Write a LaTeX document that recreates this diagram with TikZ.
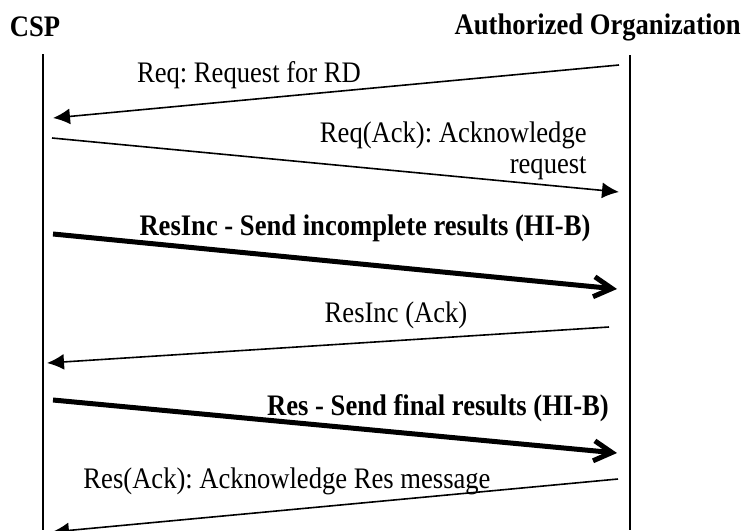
\documentclass[tikz,border=0pt]{standalone}
\usepackage{fontspec}
\setmainfont{Liberation Serif}
\frenchspacing
\usetikzlibrary{positioning,arrows.meta}
\tikzset{lifeline/.style={draw, line width=0.75pt}}
\tikzset{msg/.style={draw, line width=0.8pt, -{Latex[length=8.5pt,width=8pt]}}}
\tikzset{bigmsg/.style={draw, line width=2.5pt, -{Straight Barb[length=9pt,width=10pt]}}}
\tikzset{lbl/.style={inner sep=0pt, yscale=1.12, font=\fontsize{13.3}{13.8}\selectfont}}
\tikzset{boldlbl/.style={lbl, font=\fontsize{13.3}{13.8}\selectfont\bfseries}}

\begin{document}
\begin{tikzpicture}[x=0.5pt, y=-0.5pt]
    \useasboundingbox (0,0) rectangle (743,530);
    % actors
    \node[boldlbl](csp) at (35,27) {CSP};
    \node[boldlbl, anchor=east](ao) at (741,27) {Authorized Organization};
    % lifelines
    \coordinate (cspTop) at (43,54);
    \coordinate (cspBot) at (43,530);
    \coordinate (aoTop) at (630,55);
    \coordinate (aoBot) at (630,530);
    \draw[lifeline] (cspTop) -- (cspBot);
    \draw[lifeline] (aoTop) -- (aoBot);
    % message end points
    \coordinate (reqS) at (619,65);
    \coordinate (reqE) at (53,118);
    \coordinate (ackS) at (52,138);
    \coordinate (ackE) at (619,192);
    \coordinate (incS) at (53,234);
    \coordinate (incE) at (617,289);
    \coordinate (incAckS) at (609,327);
    \coordinate (incAckE) at (47,363);
    \coordinate (resS) at (53,400);
    \coordinate (resE) at (617,453);
    \coordinate (resAckS) at (618,479);
    \coordinate (resAckE) at (52,532);
    % messages
    \draw[msg](reqS) -- (reqE);
    \draw[msg](ackS) -- (ackE);
    \draw[bigmsg](incS) -- (incE);
    \draw[msg](incAckS) -- (incAckE);
    \draw[bigmsg](resS) -- (resE);
    \draw[msg](resAckS) -- (resAckE);
    % labels
    \node[lbl](reqL) at (249,75) {Req: Request for RD};
    \node[lbl, align=right, anchor=east](ackL) at (587,151) {Req(Ack): Acknowledge\\request};
    \node[boldlbl](incL) at (365,228) {ResInc - Send incomplete results (HI-B)};
    \node[lbl](incAckL) at (396,315) {ResInc (Ack)};
    \node[boldlbl](resL) at (438,408) {Res - Send final results (HI-B)};
    \node[lbl](resAckL) at (287,481) {Res(Ack): Acknowledge Res message};
\end{tikzpicture}
\end{document}
